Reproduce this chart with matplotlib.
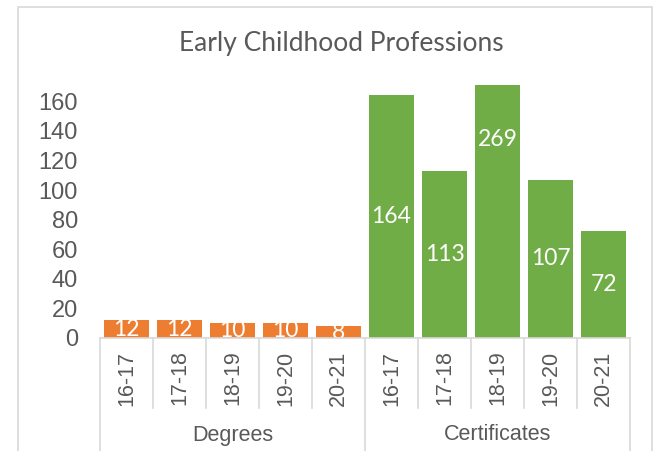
import matplotlib.pyplot as plt
from matplotlib.patches import Rectangle

groups = ["Degrees", "Certificates"]
years = ["16-17", "17-18", "18-19", "19-20", "20-21"]
degrees = [12, 12, 10, 10, 8]
certificates = [164, 113, 269, 107, 72]

orange = "#ED7D31"
green = "#70AD47"
grey_txt = "#595959"
grey_line = "#D9D9D9"

fig = plt.figure(figsize=(6.64, 4.51), dpi=100)
ax = fig.add_axes([100 / 664, 1 - 338 / 451, 530 / 664, 253 / 451])

# chart frame
fig.patches.append(Rectangle((18 / 664, -0.05), 634 / 664, 1 - 7 / 451 + 0.05,
                             transform=fig.transFigure, fill=False,
                             edgecolor=grey_line, linewidth=1.2))

values = degrees + certificates
colors = [orange] * len(degrees) + [green] * len(certificates)
xpos = list(range(len(values)))
bars = ax.bar(xpos, values, width=0.85, color=colors, zorder=2)

ax.set_xlim(-0.5, len(values) - 0.5)
ax.set_ylim(0, 171)
ax.set_yticks(range(0, 161, 20))
ax.tick_params(axis="y", length=0, pad=16, labelsize=17, labelcolor=grey_txt)
for lab in ax.get_yticklabels():
    lab.set_fontfamily("Liberation Sans")
ax.set_xticks([])
for s in ax.spines.values():
    s.set_visible(False)

for x, v in zip(xpos, values):
    ax.text(x, v / 2, str(v), ha="center", va="center", color="white",
            fontsize=16.5, family="Lato", zorder=3)

# horizontal axis line
ax.plot([-0.5, len(values) - 0.5], [0, 0], color=grey_line, lw=1.2,
        clip_on=False, zorder=4)

tr = ax.get_xaxis_transform()
h = 253
for i in range(len(values) + 1):
    xb = i - 0.5
    low = -113 / h if i % len(years) == 0 else -70 / h
    ax.plot([xb, xb], [0, low], color=grey_line, lw=1.2, transform=tr,
            clip_on=False)

labels = years + years
for x, lab in zip(xpos, labels):
    ax.text(x, -40 / h, lab, rotation=90, ha="center", va="center",
            transform=tr, fontsize=15.5, color=grey_txt, family="Liberation Sans")

for g, name in enumerate(groups):
    cx = g * len(years) + (len(years) - 1) / 2
    ax.text(cx, -97 / h, name, ha="center", va="center", transform=tr,
            fontsize=15.5, color=grey_txt, family="Liberation Sans")

fig.text(341 / 664, 1 - 43 / 451, "Early Childhood Professions", ha="center",
         va="center", fontsize=19, color=grey_txt, family="Lato")

fig.savefig("out.png", dpi=100)
